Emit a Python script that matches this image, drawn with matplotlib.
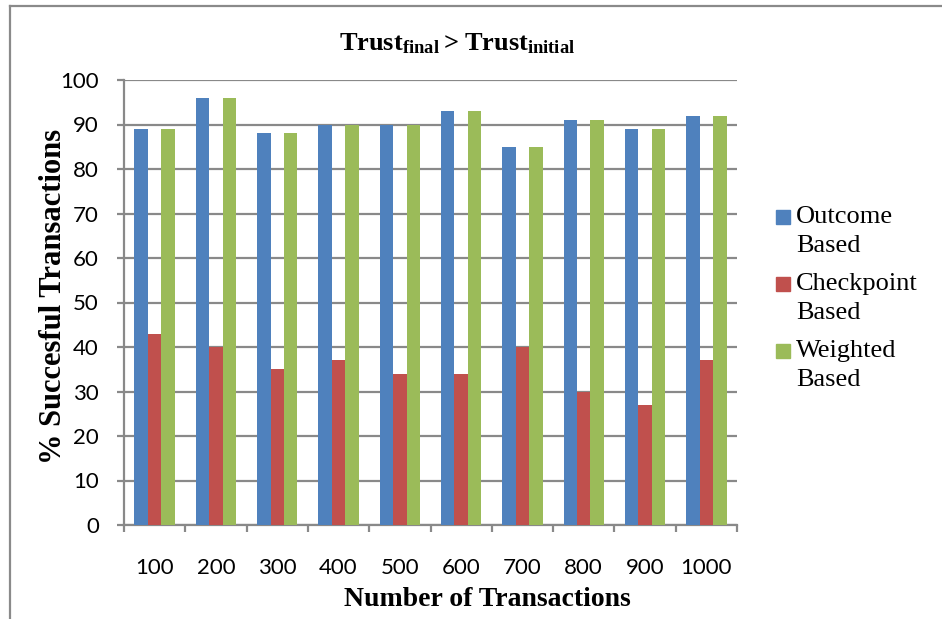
import matplotlib
matplotlib.use("Agg")
import matplotlib.pyplot as plt
import numpy as np
from matplotlib.lines import Line2D
from matplotlib.patches import Rectangle

# transactions per run and % successful transactions for each trust model
transactions = ["100", "200", "300", "400", "500", "600", "700", "800", "900", "1000"]
outcome_based = [89, 96, 88, 90, 90, 93, 85, 91, 89, 92]
checkpoint_based = [43, 40, 35, 37, 34, 34, 40, 30, 27, 37]
weighted_based = [89, 96, 88, 90, 90, 93, 85, 91, 89, 92]

series = [("Outcome\nBased", outcome_based, "#4F81BD"),
          ("Checkpoint\nBased", checkpoint_based, "#C0504D"),
          ("Weighted\nBased", weighted_based, "#9BBB59")]

plt.rcParams["mathtext.fontset"] = "custom"
plt.rcParams["mathtext.rm"] = "Liberation Serif"
plt.rcParams["mathtext.bf"] = "Liberation Serif:bold"

grid_col = "#898989"
W, H = 942, 619
fig = plt.figure(figsize=(W / 100, H / 100), dpi=100)
ax = fig.add_axes([124 / W, 1 - 525 / H, (737 - 124) / W, (525 - 80) / H])

x = np.arange(len(transactions))
bw = 0.22
for k, (name, vals, col) in enumerate(series):
    ax.bar(x + (k - 1) * bw, vals, bw, color=col, zorder=3)

ax.set_xlim(-0.5, len(transactions) - 0.5)
ax.set_ylim(0, 100)
ax.set_yticks(np.arange(0, 101, 10))
ax.set_xticks(x)
ax.set_xticklabels(transactions)
ax.set_xticks(np.arange(-0.5, len(transactions), 1), minor=True)

ax.grid(axis="y", color=grid_col, linewidth=1.6, zorder=0)
for s in ["top", "right"]:
    ax.spines[s].set_visible(False)
for s in ["left", "bottom"]:
    ax.spines[s].set_color(grid_col)
    ax.spines[s].set_linewidth(1.6)

ax.tick_params(axis="y", length=5, width=1.6, color=grid_col, pad=13,
               labelsize=16, labelfontfamily="Lato")
ax.tick_params(axis="x", which="major", length=0, pad=23.5,
               labelsize=16, labelfontfamily="Lato")
ax.tick_params(axis="x", which="minor", length=5, width=1.6, color=grid_col)

# title, axis labels
fig.text(457 / W, 1 - 50 / H, r"$\mathbf{Trust_{final}>Trust_{initial}}$",
         ha="center", va="baseline", fontsize=19)
fig.text(54 / W, 1 - 296 / H, "% Succesful Transactions", rotation=90,
         ha="center", va="center", fontsize=22, fontweight="bold",
         family="Liberation Serif")
fig.text(487 / W, 1 - 600 / H, "Number of Transactions",
         ha="center", va="center", fontsize=20, fontweight="bold",
         family="Liberation Serif")

# legend drawn as squares + two-line labels
for k, (name, vals, col) in enumerate(series):
    ytop = 217 + 67 * k
    fig.add_artist(Rectangle(((776) / W, 1 - (ytop + 7) / H), 14 / W, 14 / H,
                             transform=fig.transFigure, color=col))
    fig.text(796 / W, 1 - (ytop - 11) / H, name, ha="left", va="top",
             fontsize=19, family="Liberation Serif", linespacing=1.42)

# outer frame
fig.add_artist(Line2D([9.5 / W, 9.5 / W], [0, 1 - 6 / H], transform=fig.transFigure,
                      color="#8a8a8a", linewidth=1.6))
fig.add_artist(Line2D([9.5 / W, 1], [1 - 6 / H, 1 - 6 / H], transform=fig.transFigure,
                      color="#8a8a8a", linewidth=1.6))

fig.savefig("out.png", dpi=100)
